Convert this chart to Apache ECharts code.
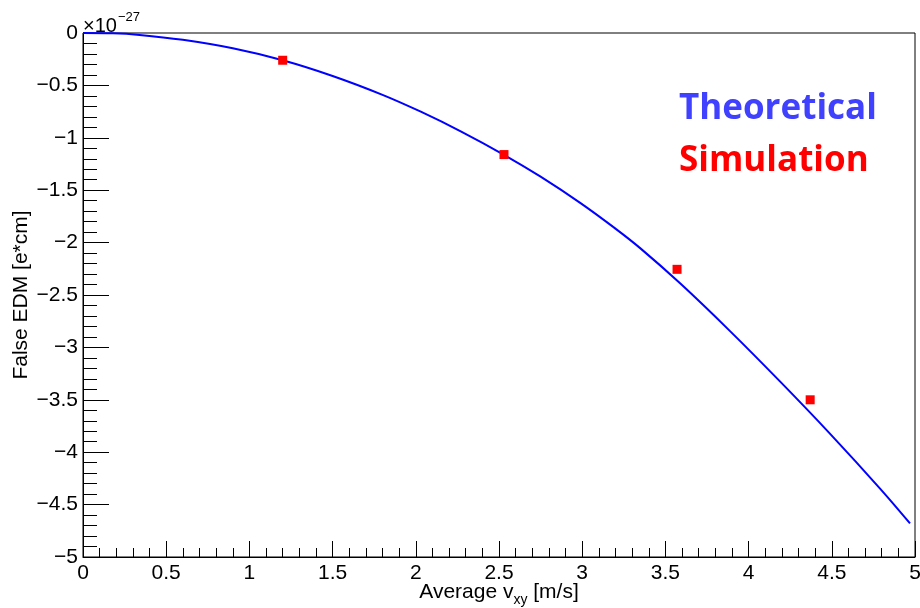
<!DOCTYPE html>
<html>
<head>
<meta charset="utf-8">
<script src="https://cdn.jsdelivr.net/npm/echarts@6/dist/echarts.min.js"></script>
<style>
html,body{margin:0;padding:0;background:#fff;}
#chart{width:920px;height:608px;}
</style>
</head>
<body>
<div id="chart"></div>
<script>
// Theoretical curve, units of 1e-27 e*cm
var curveX = [0, 0.18, 0.34, 0.60, 0.90, 1.20, 1.50, 1.80, 2.03, 2.27, 2.53, 2.75, 2.99, 3.19, 3.35, 3.59, 3.89, 4.19, 4.49, 4.79, 4.97];
var curveY = [0, -0.003, -0.018, -0.065, -0.146, -0.26, -0.41, -0.59, -0.751, -0.938, -1.162, -1.371, -1.623, -1.855, -2.055, -2.391, -2.847, -3.327, -3.825, -4.347, -4.68];
// Simulation points
var simX = [1.20, 2.53, 3.57, 4.37];
var simY = [-0.26, -1.16, -2.255, -3.50];
// Axis settings
var xMin = 0, xMax = 5, xStep = 0.5;
var yMin = -5, yMax = 0, yStep = 0.5;
var xTitle = 'Average v';
var xTitleSub = 'xy';
var xTitleTail = ' [m/s]';
var yTitle = 'False EDM [e*cm]';
var legendTexts = ['Theoretical', 'Simulation'];

var curveData = curveX.map(function (x, i) { return [x, curveY[i]]; });
var simData = simX.map(function (x, i) { return [x, simY[i]]; });

var font = '"Liberation Sans", Arial, Helvetica, sans-serif';
var chart = echarts.init(document.getElementById('chart'), null, {renderer: 'canvas'});
var option = {
  backgroundColor: '#ffffff',
  animation: false,
  grid: {left: 83, right: 5, top: 33, bottom: 51, containLabel: false, outerBoundsMode: 'none',
    show: true, borderColor: '#000', borderWidth: 1, backgroundColor: 'transparent'},
  xAxis: {
    type: 'value', min: xMin, max: xMax, interval: xStep, position: 'bottom',
    axisLine: {show: true, onZero: false, lineStyle: {color: '#000', width: 1}},
    axisTick: {show: true, inside: true, length: 16, lineStyle: {color: '#000', width: 1}},
    minorTick: {show: true, splitNumber: 5, length: 9, lineStyle: {color: '#000', width: 1}},
    splitLine: {show: false},
    axisLabel: {color: '#000', fontSize: 21, fontFamily: font, margin: 6,
      formatter: function (v) { return String(v); }},
    name: xTitle + '{sub|' + xTitleSub + '}' + xTitleTail,
    nameLocation: 'middle', nameGap: 20, nameMoveOverlap: false,
    nameTextStyle: {color: '#000', fontSize: 21, fontFamily: font,
      rich: {sub: {fontSize: 14, fontFamily: font, color: '#000', padding: [16, 0, 0, 0]}}}
  },
  yAxis: {
    type: 'value', min: yMin, max: yMax, interval: yStep,
    axisLine: {show: true, onZero: false, lineStyle: {color: '#000', width: 1}},
    axisTick: {show: true, inside: true, length: 26, lineStyle: {color: '#000', width: 1}},
    minorTick: {show: true, splitNumber: 5, length: 14, lineStyle: {color: '#000', width: 1}},
    splitLine: {show: false},
    axisLabel: {color: '#000', fontSize: 21, fontFamily: font, margin: 5,
      formatter: function (v) { return v === 0 ? '0' : String(v).replace('-', '\u2212'); }},
    name: yTitle, nameLocation: 'middle', nameGap: 51, nameRotate: 90, nameMoveOverlap: false,
    nameTextStyle: {color: '#000', fontSize: 21, fontFamily: font}
  },
  series: [
    {type: 'line', data: curveData, smooth: 0.4, showSymbol: false, symbol: 'none',
      lineStyle: {color: '#0000ff', width: 2}, z: 2},
    {type: 'scatter', data: simData, symbol: 'rect', symbolSize: 9,
      itemStyle: {color: '#ff0000', opacity: 1}, z: 3}
  ],
  graphic: [
    {type: 'text', left: 83, top: 16, style: {text: '\u00d710', fontSize: 20, fontFamily: font, fill: '#000'}},
    {type: 'text', left: 118, top: 11, style: {text: '\u221227', fontSize: 13, fontFamily: font, fill: '#000'}},
    {type: 'text', left: 679, top: 92, style: {text: legendTexts[0], fontSize: 35, fontWeight: 'bold', fontFamily: '"Open Sans", sans-serif', fill: '#4040ff'}},
    {type: 'text', left: 679, top: 144, style: {text: legendTexts[1], fontSize: 35, fontWeight: 'bold', fontFamily: '"Open Sans", sans-serif', fill: '#ff0000'}}
  ]
};
chart.setOption(option);
</script>
</body>
</html>
